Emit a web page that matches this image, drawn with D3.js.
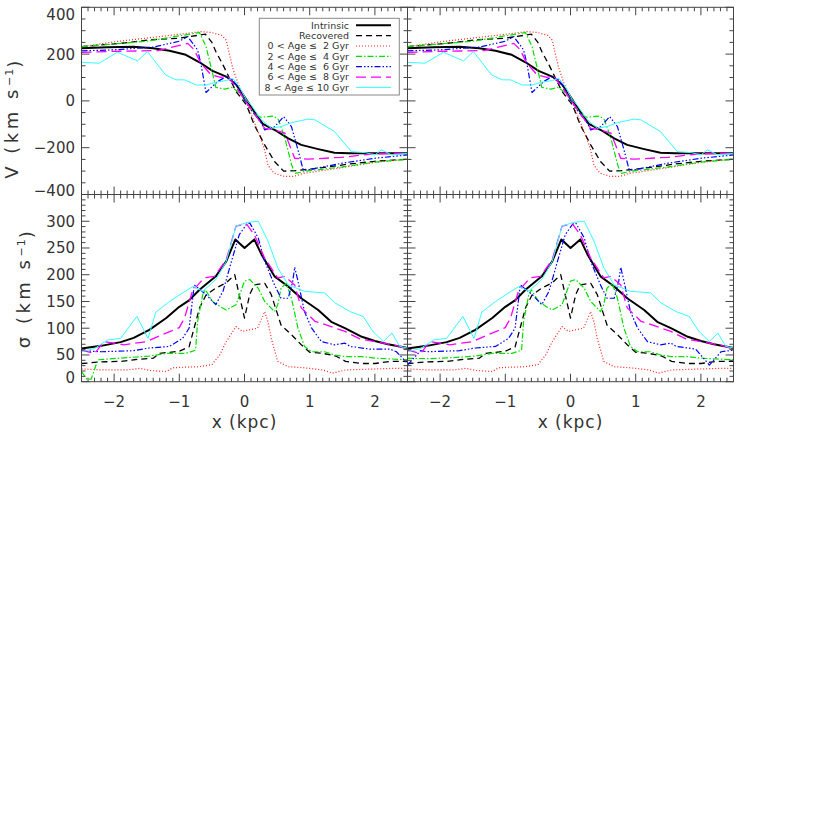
<!DOCTYPE html>
<html><head><meta charset="utf-8">
<script src="https://cdn.jsdelivr.net/npm/d3@7"></script>
<style>
body{margin:0;background:#fff;}
text{font-family:"DejaVu Sans",sans-serif;fill:#333;}
</style></head>
<body><svg id="c" width="814" height="814"></svg>
<script>
// ---------- data ----------
const xTicks = [-2, -1, 0, 1, 2];
const vTicks = [-400, -200, 0, 200, 400];
const sTicks = [0, 50, 100, 150, 200, 250, 300];
const seriesNames = ["Intrinsic", "Recovered", "0 < Age \u2264  2 Gyr", "2 < Age \u2264  4 Gyr",
  "4 < Age \u2264  6 Gyr", "6 < Age \u2264  8 Gyr", "8 < Age \u2264 10 Gyr"];

// velocity panels [x (kpc), V (km/s)]
const vIntrinsic = [[-2.5,225],[-2.1,229],[-1.7,231],[-1.4,225],[-1.15,214],[-0.9,197],[-0.69,165],[-0.49,128],[-0.28,104],[-0.13,70],[-0.03,30],[0.08,-17],[0.15,-46],[0.28,-98],[0.49,-128],[0.67,-160],[0.87,-188],[1.13,-206],[1.38,-222],[1.6,-224],[2.5,-224]];
const vRecovered = [[-2.5,232],[-1.9,246],[-1.45,261],[-1.0,268],[-0.6,285],[-0.5,250],[-0.44,211],[-0.33,154],[-0.23,97],[-0.13,40],[0.03,-17],[0.15,-103],[0.31,-188],[0.46,-259],[0.6,-300],[0.8,-298],[1.2,-285],[1.6,-270],[2.0,-258],[2.5,-249]];
const vAge02 = [[-2.5,232],[-1.95,254],[-1.08,282],[-0.67,296],[-0.5,292],[-0.35,280],[-0.28,260],[-0.24,210],[-0.18,140],[-0.1,75],[0,15],[0.1,-55],[0.2,-125],[0.3,-200],[0.36,-275],[0.45,-308],[0.6,-322],[0.75,-323],[0.9,-310],[1.5,-285],[2.0,-262],[2.5,-249]];
const vAge24 = [[-2.5,232],[-1.5,255],[-0.69,292],[-0.59,232],[-0.49,118],[-0.44,58],[-0.3,50],[-0.2,58],[-0.1,40],[0,5],[0.15,-55],[0.25,-70],[0.45,-65],[0.52,-80],[0.62,-160],[0.72,-270],[0.77,-310],[0.95,-300],[1.5,-282],[2.0,-262],[2.5,-249]];
const vAge46 = [[-2.5,214],[-2.0,218],[-1.4,230],[-1.0,255],[-0.87,275],[-0.72,218],[-0.67,161],[-0.59,36],[-0.41,83],[-0.28,104],[-0.21,97],[-0.1,61],[0,4],[0.1,-38],[0.26,-95],[0.31,-124],[0.46,-111],[0.6,-67],[0.72,-110],[0.82,-209],[0.9,-295],[0.97,-295],[1.5,-266],[2.0,-245],[2.5,-231]];
const vAge68 = [[-2.5,207],[-2.1,211],[-1.33,215],[-0.87,246],[-0.77,218],[-0.67,161],[-0.51,111],[-0.36,101],[-0.26,107],[-0.1,47],[0,4],[0.15,-53],[0.31,-117],[0.46,-124],[0.62,-138],[0.77,-245],[0.97,-249],[1.49,-241],[2.0,-226],[2.5,-224]];
const vAge810 = [[-2.5,165],[-2.23,161],[-1.95,208],[-1.64,171],[-1.49,211],[-1.21,111],[-1.05,90],[-0.92,90],[-0.74,68],[-0.59,68],[-0.44,80],[-0.28,87],[-0.18,97],[-0.08,61],[0.03,4],[0.1,-17],[0.26,-81],[0.41,-117],[0.56,-110],[0.72,-93],[0.97,-78],[1.08,-81],[1.38,-131],[1.64,-217],[1.85,-221],[2.0,-231],[2.1,-209],[2.26,-231],[2.5,-224]];

// dispersion panels [x (kpc), sigma (km/s)]
const sIntrinsic = [[-2.5,62],[-2.2,67],[-1.9,74],[-1.7,82],[-1.46,97],[-1.2,119],[-1.0,140],[-0.85,152],[-0.69,172],[-0.44,197],[-0.28,225],[-0.14,266],[0,250],[0.15,266],[0.26,238],[0.46,197],[0.67,178],[0.87,156],[1.13,134],[1.33,112],[1.54,100],[1.8,84],[2.0,76],[2.2,70],[2.5,63]];
const sRecovered = [[-2.5,34],[-2.2,37],[-1.9,38],[-1.7,41],[-1.4,44],[-1.3,53],[-1.0,57],[-0.85,65],[-0.69,138],[-0.59,162],[-0.44,175],[-0.28,185],[-0.15,200],[0,119],[0.08,163],[0.15,181],[0.31,184],[0.41,163],[0.56,106],[0.72,88],[0.87,69],[1.0,55],[1.2,53],[1.4,48],[1.55,38],[1.8,34],[2.0,34],[2.25,38],[2.5,38]];
const sAge02 = [[-2.5,24],[-2.2,22],[-1.8,22],[-1.6,25],[-1.45,21],[-1.2,19],[-1.1,26],[-0.95,27],[-0.7,28],[-0.5,32],[-0.38,50],[-0.28,75],[-0.13,103],[-0.03,94],[0.08,97],[0.2,100],[0.31,131],[0.36,112],[0.41,81],[0.51,38],[0.67,28],[0.92,26],[1.2,22],[1.35,16],[1.55,22],[1.8,23],[2.3,25],[2.5,25]];
const sAge24 = [[-2.5,19],[-2.42,5],[-2.35,5],[-2.25,41],[-1.8,45],[-1.46,48],[-1.2,53],[-0.9,53],[-0.75,59],[-0.72,112],[-0.64,163],[-0.6,172],[-0.49,150],[-0.38,141],[-0.28,134],[-0.13,144],[0,188],[0.08,191],[0.21,175],[0.31,150],[0.46,131],[0.51,144],[0.56,175],[0.64,184],[0.72,156],[0.82,100],[0.92,66],[1.03,56],[1.23,56],[1.38,50],[1.54,47],[1.8,47],[2.0,44],[2.5,41]];
const sAge46 = [[-2.5,58],[-2.2,56],[-1.7,58],[-1.46,63],[-1.15,66],[-0.95,81],[-0.85,100],[-0.77,181],[-0.74,178],[-0.59,163],[-0.44,144],[-0.33,169],[-0.2,225],[-0.08,275],[0.03,294],[0.08,297],[0.21,269],[0.31,225],[0.46,181],[0.56,156],[0.67,156],[0.74,188],[0.77,214],[0.82,188],[0.92,131],[1.03,100],[1.18,75],[1.38,69],[1.54,72],[1.62,66],[1.92,61],[2.23,61],[2.33,56],[2.5,34]];
const sAge68 = [[-2.5,59],[-2.3,53],[-2.15,75],[-1.85,69],[-1.5,75],[-1.26,88],[-1.0,101],[-0.92,119],[-0.8,169],[-0.62,194],[-0.46,197],[-0.28,228],[-0.13,291],[0.03,295],[0.15,275],[0.31,231],[0.51,194],[0.62,197],[0.77,181],[0.87,138],[1.08,113],[1.33,103],[1.54,94],[1.77,80],[2.13,72],[2.38,66],[2.5,60]];
const sAge810 = [[-2.5,56],[-2.3,62],[-2.1,78],[-1.9,81],[-1.65,122],[-1.48,81],[-1.36,130],[-1.15,150],[-0.95,166],[-0.79,178],[-0.64,169],[-0.44,191],[-0.28,225],[-0.13,291],[0.05,298],[0.21,300],[0.36,263],[0.51,213],[0.67,181],[0.92,169],[1.23,166],[1.38,148],[1.62,131],[1.82,122],[1.97,94],[2.13,75],[2.26,91],[2.38,66],[2.5,63]];
// right-hand dispersion panel differs at the edges for two bins
const sAge24R = [[-2.5,44],[-2.2,43],[-1.8,45],[-1.46,48],[-1.2,53],[-0.9,53],[-0.75,59],[-0.72,112],[-0.64,163],[-0.6,172],[-0.49,150],[-0.38,141],[-0.28,134],[-0.13,144],[0,188],[0.08,191],[0.21,175],[0.31,150],[0.46,131],[0.51,144],[0.56,175],[0.64,184],[0.72,156],[0.82,100],[0.92,66],[1.03,56],[1.23,56],[1.38,50],[1.54,47],[1.8,47],[2.0,44],[2.5,41]];
const sAge46R = [[-2.5,31],[-2.3,58],[-2.2,56],[-1.7,58],[-1.46,63],[-1.15,66],[-0.95,81],[-0.85,100],[-0.77,181],[-0.74,178],[-0.59,163],[-0.44,144],[-0.33,169],[-0.2,225],[-0.08,275],[0.03,294],[0.08,297],[0.21,269],[0.31,225],[0.46,181],[0.56,156],[0.67,156],[0.74,188],[0.77,214],[0.82,188],[0.92,131],[1.03,100],[1.18,75],[1.38,69],[1.54,72],[1.62,66],[1.92,61],[2.13,31],[2.31,56],[2.5,59]];

// ---------- styles ----------
const styles = [
  {color:"#000000", width:2.0, dash:null},
  {color:"#000000", width:1.3, dash:"6,4"},
  {color:"#ff2020", width:1.2, dash:"1,2"},
  {color:"#00e000", width:1.2, dash:"6,2,1.5,2"},
  {color:"#0000ff", width:1.2, dash:"6,2,1.5,2,1.5,2,1.5,2"},
  {color:"#ff00ff", width:1.3, dash:"10,5"},
  {color:"#33ffff", width:1.0, dash:null}
];

const svg = d3.select("#c");
const AX = "#444";

const cols = [{x0:81.5, x1:407.5}, {x0:407.5, x1:733.5}];
const rows = [{y0:7.3, y1:194.5, dom:[-400,400], ticks:vTicks, minor:50},
              {y0:194.5, y1:381.7, dom:[0,350], ticks:sTicks, minor:10}];

const vSets = [[vIntrinsic,vRecovered,vAge02,vAge24,vAge46,vAge68,vAge810],
               [vIntrinsic,vRecovered,vAge02,vAge24,vAge46,vAge68,vAge810]];
const sSets = [[sIntrinsic,sRecovered,sAge02,sAge24,sAge46,sAge68,sAge810],
               [sIntrinsic,sRecovered,sAge02,sAge24R,sAge46R,sAge68,sAge810]];

function panel(ci, ri, sets){
  const c = cols[ci], r = rows[ri];
  const x = d3.scaleLinear().domain([-2.5,2.5]).range([c.x0,c.x1]);
  const y = d3.scaleLinear().domain(r.dom).range([r.y1,r.y0]);
  const g = svg.append("g");
  const clipId = "clip"+ci+ri;
  g.append("clipPath").attr("id",clipId).append("rect")
    .attr("x",c.x0).attr("y",r.y0).attr("width",c.x1-c.x0).attr("height",r.y1-r.y0);
  const line = d3.line().x(d=>x(d[0])).y(d=>y(d[1]));
  const lg = g.append("g").attr("clip-path","url(#"+clipId+")");
  sets.forEach((data,i)=>{
    const s = styles[i];
    lg.append("path").attr("d",line(data)).attr("fill","none")
      .attr("stroke",s.color).attr("stroke-width",s.width)
      .attr("stroke-dasharray",s.dash).attr("stroke-linejoin","round");
  });
  // frame
  g.append("rect").attr("x",c.x0).attr("y",r.y0).attr("width",c.x1-c.x0).attr("height",r.y1-r.y0)
    .attr("fill","none").attr("stroke",AX).attr("stroke-width",1);
  // x ticks (inward, top and bottom)
  const xMinor = d3.range(-25,26).map(v=>v/10);
  xMinor.forEach(v=>{
    const major = Math.abs(v-Math.round(v))<1e-6;
    const L = major?8:4;
    const px = x(v);
    g.append("line").attr("x1",px).attr("x2",px).attr("y1",r.y1).attr("y2",r.y1-L).attr("stroke",AX);
    g.append("line").attr("x1",px).attr("x2",px).attr("y1",r.y0).attr("y2",r.y0+L).attr("stroke",AX);
  });
  // y ticks
  const yMinor = d3.range(r.dom[0], r.dom[1]+1, r.minor);
  const step = r.ticks[1]-r.ticks[0];
  yMinor.forEach(v=>{
    const major = ((v - r.ticks[0]) % step)===0;
    const L = major?8:4;
    const py = y(v);
    g.append("line").attr("x1",c.x0).attr("x2",c.x0+L).attr("y1",py).attr("y2",py).attr("stroke",AX);
    g.append("line").attr("x1",c.x1).attr("x2",c.x1-L).attr("y1",py).attr("y2",py).attr("stroke",AX);
  });
  // labels
  if(ci===0){
    r.ticks.forEach(v=>{
      let py = y(v);
      if (py < r.y0+4) py = r.y0+7;
      if (py > r.y1-4) py = r.y1-4;
      g.append("text").attr("x",c.x0-6.5).attr("y",py).attr("dy","0.36em")
        .attr("text-anchor","end").style("font-size","15px")
        .text(v<0 ? "\u2212"+Math.abs(v) : v);
    });
  }
  if(ri===1){
    xTicks.forEach(v=>{
      g.append("text").attr("x",x(v)).attr("y",402).attr("dy","0.36em")
        .attr("text-anchor","middle").style("font-size","15px")
        .text(v<0 ? "\u2212"+Math.abs(v) : v);
    });
    const t = g.append("text").attr("x",(c.x0+c.x1)/2).attr("y",428)
      .attr("text-anchor","middle").style("font-size","17px").style("letter-spacing","1px");
    t.text("x (kpc)");
  }
  return {x,y};
}

panel(0,0,vSets[0]); panel(1,0,vSets[1]);
panel(0,1,sSets[0]); panel(1,1,sSets[1]);

// y titles
function ytitle(sym, cx, cy){
  const t = svg.append("text").attr("transform",`translate(${cx},${cy}) rotate(-90)`)
    .attr("text-anchor","middle").attr("dy","0.35em").style("font-size","18px").style("letter-spacing","3.5px");
  t.append("tspan").text(sym+" (km s");
  t.append("tspan").attr("dy","-0.45em").style("font-size","11px").style("letter-spacing","1px").text("\u22121");
  t.append("tspan").attr("dy","0.45em").text(")");
}
ytitle("V", 12, 118);
ytitle("\u03c3", 24, 288);

// legend
const lgX0 = 259.3, lgY0 = 18.3, lgW = 140, lgH = 76.7;
const leg = svg.append("g");
leg.append("rect").attr("x",lgX0).attr("y",lgY0).attr("width",lgW).attr("height",lgH)
  .attr("fill","#fff").attr("stroke","#888").attr("stroke-width",1);
seriesNames.forEach((n,i)=>{
  const yy = lgY0 + 7 + i*10.35;
  leg.append("text").attr("x",349).attr("y",yy).attr("dy","0.35em").attr("text-anchor","end")
    .style("font-size","9.5px").style("white-space","pre").attr("xml:space","preserve").text(n);
  const s = styles[i];
  leg.append("line").attr("x1",356).attr("x2",391).attr("y1",yy).attr("y2",yy)
    .attr("stroke",s.color).attr("stroke-width",s.width).attr("stroke-dasharray",s.dash);
});
</script></body></html>
